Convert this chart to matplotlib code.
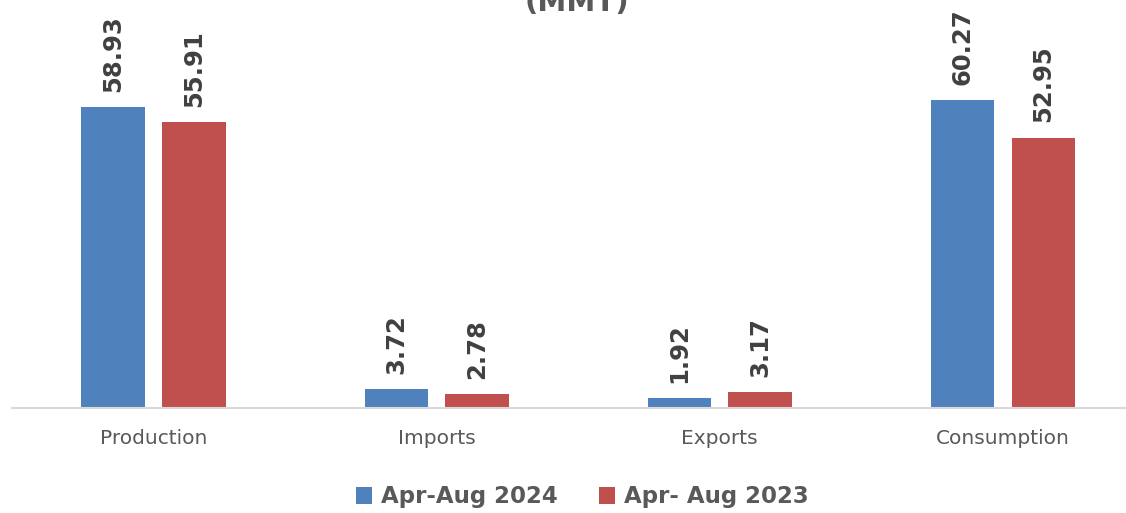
import numpy as np
import matplotlib
matplotlib.use('Agg')
import matplotlib.pyplot as plt

# Chart data (MMT)
categories = ['Production', 'Imports', 'Exports', 'Consumption']
apr_aug_2024 = [58.93, 3.72, 1.92, 60.27]
apr_aug_2023 = [55.91, 2.78, 3.17, 52.95]
series_names = ['Apr-Aug 2024', 'Apr- Aug 2023']

blue = '#4F81BD'
red = '#C0504D'
text_grey = '#404040'
label_grey = '#595959'

fig = plt.figure(figsize=(11.26, 5.13), dpi=100)
ax = fig.add_axes([12 / 1126, 105 / 513, 1 - 12 / 1126, 1 - 105 / 513])

x = np.arange(len(categories))
width = 0.223
offset = 0.143

bars_a = ax.bar(x - offset, apr_aug_2024, width, color=blue, label=series_names[0])
bars_b = ax.bar(x + offset, apr_aug_2023, width, color=red, label=series_names[1])

# rotated value labels above each bar
for bars in (bars_a, bars_b):
    for b in bars:
        ax.annotate(f'{b.get_height():.2f}',
                    xy=(b.get_x() + b.get_width() / 2, b.get_height()),
                    xytext=(0, 11), textcoords='offset points',
                    rotation=90, ha='center', va='bottom',
                    fontsize=17.5, fontweight='bold', color=text_grey)

ax.set_xlim(-0.5, 3.436)
ax.set_ylim(0, 79.87)
ax.set_xticks(x)
ax.set_xticklabels(categories, fontsize=14.5, color=label_grey)
ax.tick_params(axis='x', length=0, pad=15)
ax.set_yticks([])
for side in ('top', 'right', 'left'):
    ax.spines[side].set_visible(False)
ax.spines['bottom'].set_color('#D9D9D9')
ax.spines['bottom'].set_linewidth(1.5)

# title, cut off at the top in the original
fig.text(0.512, 502 / 513, '(MMT)', ha='center', va='baseline',
         fontsize=21, fontweight='bold', color=label_grey)

fig.legend(handles=[bars_a, bars_b], loc='center', bbox_to_anchor=(0.517, 16 / 513),
           ncol=2, frameon=False, handlelength=0.7, handleheight=0.7,
           handletextpad=0.4, columnspacing=1.8,
           prop={'size': 16.5, 'weight': 'bold'}, labelcolor=label_grey)

fig.savefig('out.png', dpi=100)
